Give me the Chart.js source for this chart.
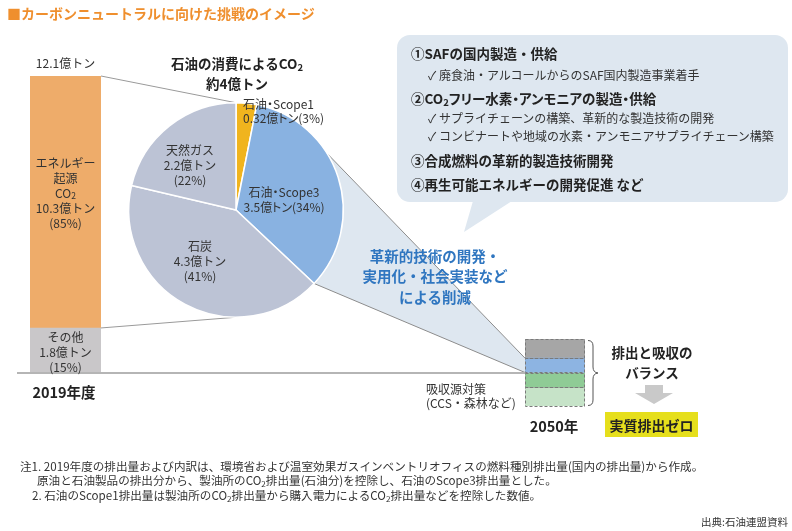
<!DOCTYPE html>
<html lang="ja">
<head>
<meta charset="utf-8">
<script src="https://cdn.jsdelivr.net/npm/chart.js@4.4.0/dist/chart.umd.min.js"></script>
<style>
body{margin:0;background:#fff;font-family:"Noto Sans CJK JP","Noto Sans",sans-serif;color:#333}
#stage{position:relative;width:792px;height:531px;overflow:hidden}
canvas{position:absolute}
#bg{left:0;top:0;z-index:0}
#bar2019{left:10px;top:50px;z-index:1}
#pie{left:110px;top:50px;z-index:1}
#bar2050{left:515px;top:330px;z-index:1}
.t{position:absolute;white-space:nowrap;z-index:2}
.sub{font-size:70%;position:relative;top:2px}
</style>
</head>
<body>
<div id="stage">
  <canvas id="bg" width="792" height="531"></canvas>
  <canvas id="bar2019" width="120" height="330"></canvas>
  <canvas id="pie" width="260" height="280"></canvas>
  <canvas id="bar2050" width="80" height="85"></canvas>
</div>
<script>
// 2019 total emissions (億トン)
const barCategories = ['2019年度'];
const otherValues = [1.8];
const energyValues = [10.3];
const totalLabel = '12.1億トン';
const otherText = ['その他', '1.8億トン', '(15%)'];
const energyText = ['エネルギー', '起源', 'CO₂', '10.3億トン', '(85%)'];

// breakdown of energy CO2
const pieLabels = ['石油・Scope1', '石油・Scope3', '石炭', '天然ガス'];
const pieValues = [0.32, 3.5, 4.3, 2.2];
const pieAmounts = ['0.32億トン', '3.5億トン', '4.3億トン', '2.2億トン'];
const pieShares = ['(3%)', '(34%)', '(41%)', '(22%)'];

// 2050 balance (illustrative sizes)
const futureCategories = ['2050年'];
const futureEmission = [0.6, 0.8];     // blue (oil), gray (other)
const futureAbsorption = [-0.6, -0.8]; // green, light green

const stage = document.getElementById('stage');
Chart.defaults.font.family = '"Noto Sans CJK JP", sans-serif';

function sub(s) {
    return s.replace(/₂/g, '<span class="sub">2</span>');
}

// text helper: y is the middle of the first line
function addText(lines, x, y, o = {}) {
    const lh = o.lh || 15;
    const d = document.createElement('div');
    d.className = 't';
    d.style.font = `${o.weight || 'normal'} ${o.size || 12}px "Noto Sans CJK JP"`;
    if (o.palt) d.style.fontFeatureSettings = '"palt" 1';
    d.style.lineHeight = lh + 'px';
    d.style.color = o.color || '#333';
    d.style.textAlign = o.align || 'center';
    d.innerHTML = lines.map(sub).join('<br>');
    d.style.top = (y - lh / 2) + 'px';
    if (o.align === 'left') {
        d.style.left = x + 'px';
    } else if (o.align === 'right') {
        d.style.right = (792 - x) + 'px';
    } else {
        d.style.left = x + 'px';
        d.style.transform = 'translateX(-50%)';
    }
    stage.appendChild(d);
}

// labels inside the 2019 bar
const barText = {
    id: 'barText',
    afterDatasetsDraw(chart) {
        const ctx = chart.ctx;
        ctx.save();
        ctx.fillStyle = '#333';
        ctx.textBaseline = 'middle';
        const big = '12px "Noto Sans CJK JP"', small = '8.5px "Noto Sans CJK JP"';
        ctx.font = big;
        [otherText, energyText].forEach((lines, i) => {
            const el = chart.getDatasetMeta(i).data[0];
            const mid = (el.y + el.base) / 2 + (i === 1 ? -9 : 2);
            lines.forEach((s, k) => {
                const yy = mid + (k - (lines.length - 1) / 2) * 15;
                if (s.includes('₂')) {
                    const head = s.replace('₂', '');
                    ctx.font = big;
                    const w1 = ctx.measureText(head).width;
                    ctx.font = small;
                    const w2 = ctx.measureText('2').width;
                    const x0 = el.x - (w1 + w2) / 2;
                    ctx.textAlign = 'left';
                    ctx.font = big;
                    ctx.fillText(head, x0, yy);
                    ctx.font = small;
                    ctx.fillText('2', x0 + w1, yy + 3);
                    ctx.font = big;
                } else {
                    ctx.textAlign = 'center';
                    ctx.fillText(s, el.x, yy);
                }
            });
        });
        ctx.textAlign = 'center';
        const top = chart.getDatasetMeta(1).data[0];
        ctx.fillText(totalLabel, top.x, top.y - 13);
        ctx.restore();
    }
};

const barChart = new Chart(document.getElementById('bar2019'), {
    type: 'bar',
    data: {
        labels: barCategories,
        datasets: [
            { label: 'その他', data: otherValues, backgroundColor: '#c9c7c9' },
            { label: 'エネルギー起源CO2', data: energyValues, backgroundColor: '#eeac6a' }
        ]
    },
    options: {
        responsive: false,
        animation: false,
        layout: { padding: { left: 20, right: 29, top: 26, bottom: 8 } },
        datasets: { bar: { barPercentage: 1, categoryPercentage: 1, borderWidth: 0 } },
        scales: {
            x: { display: false, stacked: true },
            y: { display: false, stacked: true, min: 0, max: 12.1 }
        },
        plugins: { legend: { display: false }, tooltip: { enabled: false } }
    },
    plugins: [barText]
});

const pieChart = new Chart(document.getElementById('pie'), {
    type: 'pie',
    data: {
        labels: pieLabels,
        datasets: [{
            data: pieValues,
            backgroundColor: ['#f0b41e', '#89b2e1', '#bcc3d5', '#bcc3d5'],
            borderColor: '#fff',
            borderWidth: 1.5
        }]
    },
    options: {
        responsive: false,
        animation: false,
        layout: { padding: { left: 18, right: 26, top: 52, bottom: 12 } },
        plugins: { legend: { display: false }, tooltip: { enabled: false } }
    }
});

// dashed outlines for the 2050 boxes
const dashedBoxes = {
    id: 'dashedBoxes',
    afterDatasetsDraw(chart) {
        const ctx = chart.ctx;
        ctx.save();
        ctx.strokeStyle = '#7a7a7a';
        ctx.lineWidth = 1;
        ctx.setLineDash([3, 2]);
        chart.data.datasets.forEach((ds, i) => {
            const el = chart.getDatasetMeta(i).data[0];
            const top = Math.min(el.y, el.base);
            const h = Math.abs(el.base - el.y);
            ctx.strokeRect(Math.round(el.x - el.width / 2) + 0.5, Math.round(top) + 0.5, Math.round(el.width) - 1, Math.round(h));
        });
        ctx.restore();
    }
};

const futureChart = new Chart(document.getElementById('bar2050'), {
    type: 'bar',
    data: {
        labels: futureCategories,
        datasets: [
            { label: '石油', data: [futureEmission[0]], backgroundColor: '#8db4e2' },
            { label: 'その他排出', data: [futureEmission[1]], backgroundColor: '#a6a6a6' },
            { label: '吸収', data: [futureAbsorption[0]], backgroundColor: '#8fcb96' },
            { label: '吸収源対策', data: [futureAbsorption[1]], backgroundColor: '#c6e3c8' }
        ]
    },
    options: {
        responsive: false,
        animation: false,
        layout: { padding: { left: 10, right: 10, top: 9, bottom: 9 } },
        datasets: { bar: { barPercentage: 1, categoryPercentage: 1, borderWidth: 0 } },
        scales: {
            x: { display: false, stacked: true },
            y: { display: false, stacked: true, min: -1.4, max: 1.4 }
        },
        plugins: { legend: { display: false }, tooltip: { enabled: false } }
    },
    plugins: [dashedBoxes]
});

// background: bubble, funnel, connectors, baseline, brace, arrow
function drawBackground() {
    const ctx = document.getElementById('bg').getContext('2d');
    const off = id => {
        const c = document.getElementById(id);
        return { x: c.offsetLeft, y: c.offsetTop };
    };
    const bo = off('bar2019'), po = off('pie'), fo = off('bar2050');

    // speech bubble
    ctx.fillStyle = '#dee7f0';
    ctx.beginPath();
    ctx.roundRect(397, 35, 391, 167, 13);
    ctx.fill();
    ctx.beginPath();
    ctx.moveTo(473, 201);
    ctx.lineTo(512, 201);
    ctx.lineTo(464, 232);
    ctx.closePath();
    ctx.fill();

    // funnel from Scope3 slice to the 2050 blue box
    const arc = pieChart.getDatasetMeta(0).data[1];
    const cx = arc.x + po.x, cy = arc.y + po.y, r = arc.outerRadius;
    const aA = arc.startAngle + 0.385 * (arc.endAngle - arc.startAngle);
    const A = { x: cx + r * Math.cos(aA), y: cy + r * Math.sin(aA) };
    const B = { x: cx + r * Math.cos(arc.endAngle), y: cy + r * Math.sin(arc.endAngle) };
    const blue = futureChart.getDatasetMeta(0).data[0];
    const bx = blue.x - blue.width / 2 + fo.x;
    const bTop = blue.y + fo.y, bBot = blue.base + fo.y;
    ctx.fillStyle = '#dee7f0';
    ctx.beginPath();
    ctx.moveTo(cx, cy);
    ctx.lineTo(A.x, A.y);
    ctx.lineTo(bx, bTop);
    ctx.lineTo(bx, bBot);
    ctx.lineTo(B.x, B.y);
    ctx.closePath();
    ctx.fill();
    ctx.strokeStyle = '#8c8c8c';
    ctx.lineWidth = 1;
    ctx.beginPath();
    ctx.moveTo(A.x, A.y); ctx.lineTo(bx, bTop);
    ctx.moveTo(B.x, B.y); ctx.lineTo(bx, bBot);
    ctx.stroke();

    // connectors from 2019 bar to pie
    const eBar = barChart.getDatasetMeta(1).data[0];
    const right = eBar.x + eBar.width / 2 + bo.x;
    ctx.strokeStyle = '#9a9a9a';
    ctx.beginPath();
    ctx.moveTo(right, eBar.y + bo.y); ctx.lineTo(cx, cy - r);
    ctx.moveTo(right, eBar.base + bo.y); ctx.lineTo(cx, cy + r);
    ctx.stroke();

    // baseline
    const oBar = barChart.getDatasetMeta(0).data[0];
    const baseY = oBar.base + bo.y + 1;
    ctx.strokeStyle = '#b5b5b5';
    ctx.lineWidth = 2;
    ctx.beginPath();
    ctx.moveTo(17, baseY); ctx.lineTo(bx, baseY);
    ctx.stroke();

    // brace
    ctx.strokeStyle = '#555';
    ctx.lineWidth = 1;
    ctx.beginPath();
    ctx.moveTo(588, 340.5);
    ctx.quadraticCurveTo(593, 340.5, 593, 346);
    ctx.lineTo(593, 367);
    ctx.quadraticCurveTo(593, 372.5, 598, 373);
    ctx.quadraticCurveTo(593, 373.5, 593, 379);
    ctx.lineTo(593, 400);
    ctx.quadraticCurveTo(593, 405.5, 588, 405.5);
    ctx.stroke();

    // arrow
    ctx.fillStyle = '#c9c9c9';
    ctx.beginPath();
    ctx.moveTo(645, 385); ctx.lineTo(663, 385); ctx.lineTo(663, 393);
    ctx.lineTo(673, 393); ctx.lineTo(654, 404); ctx.lineTo(635, 393);
    ctx.lineTo(645, 393);
    ctx.closePath();
    ctx.fill();

    // yellow result box
    ctx.fillStyle = '#e6df1c';
    ctx.fillRect(605, 412, 93, 25);
}
drawBackground();

// texts
addText(['■カーボンニュートラルに向けた挑戦のイメージ'], 7, 13, { size: 14, weight: 'bold', color: '#ef8f2e', align: 'left' });
addText(['石油の消費によるCO₂', '約4億トン'], 237, 63, { size: 13.5, weight: 'bold', color: '#222', lh: 18 });

addText([pieLabels[0], pieAmounts[0] + pieShares[0]], 243, 104, { align: 'left', lh: 14, palt: true });
addText([pieLabels[1], pieAmounts[1] + pieShares[1]], 284, 191, { lh: 15, palt: true });
addText([pieLabels[3], pieAmounts[3], pieShares[3]], 190, 149, { lh: 15 });
addText([pieLabels[2], pieAmounts[2], pieShares[2]], 200, 245, { lh: 15 });

addText(['2019年度'], 64, 391, { size: 14.5, weight: 'bold', color: '#222' });
addText(['2050年'], 554, 425, { size: 14.5, weight: 'bold', color: '#222' });
addText(['吸収源対策', '(CCS・森林など)'], 426, 389, { align: 'left', lh: 14 });

addText(['革新的技術の開発・', '実用化・社会実装など', 'による削減'], 435, 256, { size: 14.5, weight: 'bold', color: '#2f76c0', lh: 20.5 });

addText(['排出と吸収の', 'バランス'], 652, 352, { size: 13.5, weight: 'bold', color: '#222', lh: 20 });
addText(['実質排出ゼロ'], 651.5, 425, { size: 14, weight: 'bold', color: '#222' });

addText(['①SAFの国内製造・供給'], 411, 53, { size: 13.5, weight: 'bold', color: '#222', align: 'left' });
addText(['✓ 廃食油・アルコールからのSAF国内製造事業着手'], 428, 74, { size: 12, align: 'left' });
addText(['②CO₂フリー水素・アンモニアの製造・供給'], 411, 98, { size: 13.5, weight: 'bold', color: '#222', align: 'left', palt: true });
addText(['✓ サプライチェーンの構築、革新的な製造技術の開発'], 428, 117, { size: 12, align: 'left' });
addText(['✓ コンビナートや地域の水素・アンモニアサプライチェーン構築'], 428, 135, { size: 12, align: 'left' });
addText(['③合成燃料の革新的製造技術開発'], 411, 160, { size: 13.5, weight: 'bold', color: '#222', align: 'left' });
addText(['④再生可能エネルギーの開発促進 など'], 411, 184, { size: 13.5, weight: 'bold', color: '#222', align: 'left' });

addText(['注1. 2019年度の排出量および内訳は、環境省および温室効果ガスインベントリオフィスの燃料種別排出量(国内の排出量)から作成。'], 20, 466, { size: 11.6, align: 'left' });
addText(['原油と石油製品の排出分から、製油所のCO₂排出量(石油分)を控除し、石油のScope3排出量とした。'], 37, 480, { size: 11.6, align: 'left' });
addText(['2. 石油のScope1排出量は製油所のCO₂排出量から購入電力によるCO₂排出量などを控除した数値。'], 32, 495, { size: 11.6, align: 'left' });
addText(['出典:石油連盟資料'], 788, 521, { size: 10.5, align: 'right' });
</script>
</body>
</html>
